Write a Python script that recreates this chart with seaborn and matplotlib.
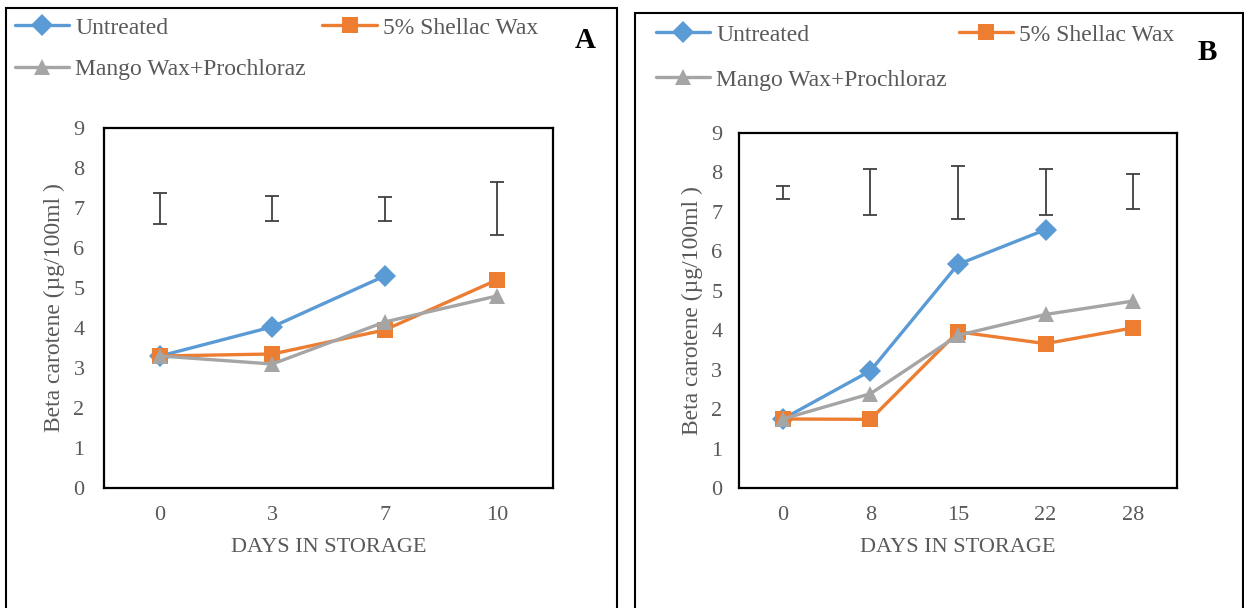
import numpy as np
import pandas as pd
import matplotlib
matplotlib.use("Agg")
import matplotlib.pyplot as plt
import seaborn as sns
from matplotlib.patches import Rectangle

# Panel A data
days_a = ["0", "3", "7", "10"]
untreated_a = [3.3, 4.03, 5.3, np.nan]
shellac_a = [3.3, 3.35, 3.95, 5.2]
mango_a = [3.3, 3.1, 4.15, 4.8]
err_low_a = [6.6, 6.68, 6.68, 6.32]
err_high_a = [7.38, 7.3, 7.28, 7.66]

# Panel B data
days_b = ["0", "8", "15", "22", "28"]
untreated_b = [1.75, 2.97, 5.67, 6.55, np.nan]
shellac_b = [1.75, 1.74, 3.96, 3.66, 4.06]
mango_b = [1.75, 2.39, 3.87, 4.4, 4.74]
err_low_b = [7.32, 6.91, 6.83, 6.91, 7.07]
err_high_b = [7.65, 8.08, 8.17, 8.08, 7.95]

treatments = ["Untreated", "5% Shellac Wax", "Mango Wax+Prochloraz"]
palette = {"Untreated": "#5B9BD5", "5% Shellac Wax": "#ED7D31",
           "Mango Wax+Prochloraz": "#A5A5A5"}
markers = {"Untreated": "D", "5% Shellac Wax": "s", "Mango Wax+Prochloraz": "^"}
text_col = "#595959"

sns.set_theme(style="white")
plt.rcParams["font.family"] = ["Liberation Serif", "DejaVu Serif"]

W, H = 1244, 608
fig = plt.figure(figsize=(W / 100, H / 100), dpi=100)


def px_axes(x0, y0, x1, y1):
    return fig.add_axes([x0 / W, 1 - y1 / H, (x1 - x0) / W, (y1 - y0) / H])


def draw_panel(ax, days, series, err_low, err_high, letter, leg_xy, colsp, lsp,
               letter_xy, ypad, ylab_pad):
    df = pd.DataFrame({
        "Day": days * 3,
        "Value": series[0] + series[1] + series[2],
        "Treatment": np.repeat(treatments, len(days)),
    })
    sns.lineplot(data=df, x="Day", y="Value", hue="Treatment", style="Treatment",
                 palette=palette, markers=markers, dashes=False, linewidth=2.4,
                 markersize=11.5, markeredgewidth=0, sort=False, ax=ax)
    low = np.array(err_low)
    high = np.array(err_high)
    ax.errorbar(days, (low + high) / 2, yerr=(high - low) / 2, fmt="none",
                ecolor="#404040", elinewidth=1.3, capsize=5, capthick=1.3)
    ax.set_xlim(-0.5, len(days) - 0.5)
    ax.set_ylim(0, 9)
    ax.set_yticks(range(10))
    ax.tick_params(axis="both", length=0, labelsize=16, labelcolor=text_col)
    ax.tick_params(axis="y", pad=ypad)
    ax.tick_params(axis="x", pad=13)
    ax.set_xlabel("DAYS IN STORAGE", fontsize=16, color=text_col, labelpad=9)
    ax.set_ylabel("Beta carotene (µg/100ml )", fontsize=17, color=text_col,
                  labelpad=ylab_pad)
    for s in ax.spines.values():
        s.set_color("black")
        s.set_linewidth(1.6)
    handles, labels = ax.get_legend_handles_labels()
    order = [0, 2, 1]
    ax.legend([handles[i] for i in order], [labels[i] for i in order],
              ncol=2, frameon=False, fontsize=17, labelcolor=text_col,
              handlelength=2.3, handletextpad=0.25, columnspacing=colsp,
              labelspacing=lsp, borderpad=0, borderaxespad=0, markerscale=1.0,
              loc="upper left", bbox_to_anchor=leg_xy,
              bbox_transform=fig.transFigure)
    fig.text(letter_xy[0] / W, 1 - letter_xy[1] / H, letter, fontsize=21,
             fontweight="bold", ha="center", va="center", color="black")


# outer panel frames
fig.patches.append(Rectangle((6 / W, -0.05), (617 - 6) / W, 1.05 - 8 / H,
                             transform=fig.transFigure, fill=False,
                             edgecolor="black", linewidth=1.5))
fig.patches.append(Rectangle((635 / W, -0.05), (1243 - 635) / W, 1.05 - 13 / H,
                             transform=fig.transFigure, fill=False,
                             edgecolor="black", linewidth=1.5))

ax_a = px_axes(104, 128, 553, 488)
draw_panel(ax_a, days_a, [untreated_a, shellac_a, mango_a], err_low_a, err_high_a,
           "A", (15 / W, 1 - 17 / H), 0.7, 0.85, (585, 40), 14, 6)

ax_b = px_axes(739, 133, 1177, 488)
draw_panel(ax_b, days_b, [untreated_b, shellac_b, mango_b], err_low_b, err_high_b,
           "B", (656 / W, 1 - 24 / H), 0.5, 1.0, (1207, 52), 12, 6)

fig.savefig("out.png", dpi=100)
